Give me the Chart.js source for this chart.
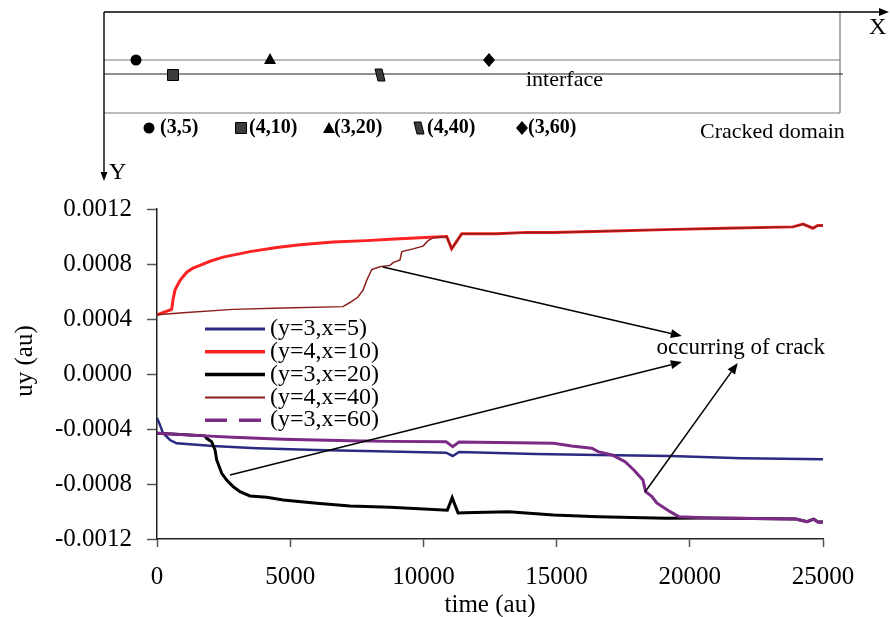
<!DOCTYPE html>
<html>
<head>
<meta charset="utf-8">
<script src="https://cdn.jsdelivr.net/npm/chart.js@4.4.1/dist/chart.umd.min.js"></script>
<style>
  html, body { margin: 0; padding: 0; background: #fff; }
  canvas { display: block; }
</style>
</head>
<body>
<canvas id="chart" width="890" height="617"></canvas>
<script>
// series: time (au) and uy (au)
const seriesNames = ['(y=3,x=5)', '(y=4,x=10)', '(y=3,x=20)', '(y=4,x=40)', '(y=3,x=60)'];

const timeY3X5 = [0, 110, 225, 490, 740, 1615, 2100, 3740, 6000, 9160, 10850, 11100, 11340, 14210, 16560, 19260, 21960, 25000];
const uyY3X5 = [-0.00032, -0.00037, -0.00043, -0.00048, -0.000504, -0.000516, -0.000524, -0.00054, -0.000553, -0.000565, -0.000572, -0.000596, -0.000567, -0.000582, -0.000589, -0.000596, -0.000613, -0.00062];

const timeY4X10 = [0, 550, 600, 675, 860, 1115, 1350, 1615, 1990, 2480, 2990, 3490, 4495, 5370, 6610, 7870, 8750, 10250, 10875, 11060, 11440, 12750, 13880, 14870, 17120, 19070, 21320, 23870, 24250, 24620, 24800, 25000];
const uyY4X10 = [0.00043, 0.00047, 0.00054, 0.00061, 0.00068, 0.00074, 0.00077, 0.00079, 0.00082, 0.00085, 0.00087, 0.00089, 0.00092, 0.00094, 0.00096, 0.00097, 0.00098, 0.000995, 0.001, 0.00091, 0.00102, 0.00102, 0.00103, 0.00103, 0.00104, 0.00105, 0.00106, 0.00107, 0.00109, 0.00106, 0.00108, 0.00108];

const timeY3X20 = [0, 900, 1800, 1865, 2050, 2180, 2240, 2430, 2615, 2865, 3115, 3490, 4120, 4740, 6000, 7245, 8750, 10900, 11080, 11300, 11525, 13200, 14890, 16560, 19100, 20780, 23980, 24400, 24650, 24810, 25000];
const uyY3X20 = [-0.00043, -0.00044, -0.00045, -0.000468, -0.000492, -0.000553, -0.000625, -0.000722, -0.000771, -0.00082, -0.000856, -0.000887, -0.000897, -0.000916, -0.00094, -0.00096, -0.000969, -0.00099, -0.0009, -0.00101, -0.001009, -0.001001, -0.001025, -0.001038, -0.001049, -0.001047, -0.001055, -0.001074, -0.001056, -0.001076, -0.001076];

const timeY4X40 = [0, 975, 2850, 4730, 6980, 7245, 7545, 7735, 7870, 8060, 8370, 8750, 8860, 9120, 9190, 9610, 9985, 10175, 10360, 10625, 10875, 11060, 11440, 12750, 13880, 14870, 17120, 19070, 21320, 23870, 24250, 24620, 24800, 25000];
const uyY4X40 = [0.00043, 0.000445, 0.00047, 0.00048, 0.00049, 0.00052, 0.00056, 0.00061, 0.00068, 0.00076, 0.00078, 0.00079, 0.00081, 0.00083, 0.00089, 0.00091, 0.00093, 0.00097, 0.00099, 0.000995, 0.001, 0.00091, 0.00102, 0.00102, 0.00103, 0.00103, 0.00104, 0.00105, 0.00106, 0.00107, 0.00109, 0.00106, 0.00108, 0.00108];

const timeY3X60 = [0, 1800, 2850, 4730, 7245, 8750, 10850, 11100, 11340, 14890, 15560, 16320, 16560, 17080, 17570, 17900, 18240, 18340, 18580, 18760, 19260, 19600, 20780, 23980, 24400, 24650, 24810, 25000];
const uyY3X60 = [-0.00043, -0.00045, -0.00046, -0.000475, -0.000485, -0.00049, -0.000492, -0.000529, -0.000495, -0.000504, -0.000524, -0.00054, -0.000565, -0.000589, -0.000638, -0.000698, -0.000771, -0.000856, -0.000892, -0.000938, -0.001001, -0.001038, -0.001047, -0.001055, -0.001074, -0.001056, -0.001076, -0.001076];

const timeTicks = [0, 5000, 10000, 15000, 20000, 25000];
const uyTicks = [-0.0012, -0.0008, -0.0004, 0, 0.0004, 0.0008, 0.0012];

// "occurring of crack" arrows, in data units: [t from, uy from, t to, uy to]
const crackArrows = [
    [8480, 0.000778, 19700, 0.000276],
    [2740, -0.000735, 19700, 0.000087],
    [18320, -0.000858, 21800, 0.00008]
];
const crackLabelAt = [18750, 0.00019];

const serif = '"Liberation Serif", "Times New Roman", serif';
const colors = ['#2b2a80', '#fa2222', '#000000', '#8b1c1c', '#7b2a86'];
const widths = [2.5, 3, 3, 1.5, 3];
const legendDash = [[], [], [], [], [22, 12]];

function toPoints(ts, us) {
    return ts.map((t, i) => ({x: t, y: us[i]}));
}

const seriesData = [
    toPoints(timeY3X5, uyY3X5),
    toPoints(timeY4X10, uyY4X10),
    toPoints(timeY3X20, uyY3X20),
    toPoints(timeY4X40, uyY4X40),
    toPoints(timeY3X60, uyY3X60)
];

function arrow(ctx, x1, y1, x2, y2, width, len, half) {
    const a = Math.atan2(y2 - y1, x2 - x1);
    const bx = x2 - len * Math.cos(a), by = y2 - len * Math.sin(a);
    ctx.save();
    ctx.strokeStyle = '#000';
    ctx.fillStyle = '#000';
    ctx.lineWidth = width;
    ctx.beginPath();
    ctx.moveTo(x1, y1);
    ctx.lineTo(bx, by);
    ctx.stroke();
    ctx.beginPath();
    ctx.moveTo(x2, y2);
    ctx.lineTo(bx + half * Math.sin(a), by - half * Math.cos(a));
    ctx.lineTo(bx - half * Math.sin(a), by + half * Math.cos(a));
    ctx.closePath();
    ctx.fill();
    ctx.restore();
}

function seg(ctx, x1, y1, x2, y2) {
    ctx.beginPath();
    ctx.moveTo(x1, y1);
    ctx.lineTo(x2, y2);
    ctx.stroke();
}

function marker(ctx, kind, x, y) {
    ctx.save();
    ctx.fillStyle = '#000';
    ctx.strokeStyle = '#000';
    ctx.lineWidth = 1;
    ctx.beginPath();
    if (kind === 'circle') {
        ctx.arc(x, y, 5.5, 0, Math.PI * 2);
        ctx.fill();
    } else if (kind === 'square') {
        ctx.fillStyle = '#3c3c3c';
        ctx.rect(x - 5.5, y - 5.5, 11, 11);
        ctx.fill();
        ctx.stroke();
    } else if (kind === 'triangle') {
        ctx.moveTo(x, y - 6);
        ctx.lineTo(x + 6, y + 5);
        ctx.lineTo(x - 6, y + 5);
        ctx.closePath();
        ctx.fill();
    } else if (kind === 'slant') {
        ctx.fillStyle = '#3c3c3c';
        ctx.moveTo(x - 5, y - 6);
        ctx.lineTo(x + 2, y - 6);
        ctx.lineTo(x + 5, y + 6);
        ctx.lineTo(x - 2, y + 6);
        ctx.closePath();
        ctx.fill();
        ctx.stroke();
    } else {
        ctx.moveTo(x, y - 7);
        ctx.lineTo(x + 6, y);
        ctx.lineTo(x, y + 7);
        ctx.lineTo(x - 6, y);
        ctx.closePath();
        ctx.fill();
    }
    ctx.restore();
}

// sketch of the cracked domain above the plot
function drawSchematic(ctx) {
    ctx.save();
    ctx.lineWidth = 1.2;
    ctx.strokeStyle = '#7a7a7a';
    seg(ctx, 840, 12, 840, 113);
    seg(ctx, 104, 113, 840, 113);
    seg(ctx, 104, 60, 840, 60);
    ctx.strokeStyle = '#222';
    seg(ctx, 104, 74, 843, 74);
    arrow(ctx, 104, 12, 889, 12, 1.4, 10, 4);
    arrow(ctx, 104, 12, 104, 181, 1.4, 9, 3.5);

    marker(ctx, 'circle', 136, 60);
    marker(ctx, 'square', 173, 75);
    marker(ctx, 'triangle', 270, 59);
    marker(ctx, 'slant', 380, 75);
    marker(ctx, 'diamond', 489, 60);

    ctx.fillStyle = '#000';
    ctx.textBaseline = 'middle';
    ctx.textAlign = 'left';
    ctx.font = '22px ' + serif;
    ctx.fillText('interface', 526, 80);
    ctx.fillText('Cracked domain', 700, 132);
    ctx.font = '24px ' + serif;
    ctx.fillText('X', 869, 28);
    ctx.fillText('Y', 109, 173);

    const keys = [['circle', 149, '(3,5)', 160], ['square', 241, '(4,10)', 249], ['triangle', 329, '(3,20)', 334],
        ['slant', 419, '(4,40)', 427], ['diamond', 522, '(3,60)', 528]];
    ctx.font = 'bold 20px ' + serif;
    keys.forEach(k => {
        marker(ctx, k[0], k[1], 128);
        ctx.fillText(k[2], k[3], 128);
    });
    ctx.restore();
}

const overlayPlugin = {
    id: 'overlay',
    afterDraw(chart) {
        const ctx = chart.ctx;
        const xs = chart.scales.x, ys = chart.scales.y;
        drawSchematic(ctx);

        // y axis title
        ctx.save();
        ctx.fillStyle = '#000';
        ctx.font = '25px ' + serif;
        ctx.textAlign = 'center';
        ctx.textBaseline = 'middle';
        ctx.translate(25, 361);
        ctx.rotate(-Math.PI / 2);
        ctx.fillText('uy (au)', 0, 0);
        ctx.restore();

        // legend inside the plot
        ctx.save();
        ctx.font = '24px ' + serif;
        ctx.textBaseline = 'middle';
        ctx.textAlign = 'left';
        ctx.fillStyle = '#000';
        seriesNames.forEach((name, i) => {
            const y = 329 + i * 22.8;
            ctx.strokeStyle = colors[i];
            ctx.lineWidth = widths[i] + 0.5;
            ctx.setLineDash(legendDash[i]);
            seg(ctx, 205, y, 265, y);
            ctx.setLineDash([]);
            ctx.fillText(name, 270, y);
        });
        ctx.restore();

        // crack arrows and label
        crackArrows.forEach(a => {
            arrow(ctx, xs.getPixelForValue(a[0]), ys.getPixelForValue(a[1]),
                xs.getPixelForValue(a[2]), ys.getPixelForValue(a[3]), 1.5, 11, 4.5);
        });
        ctx.save();
        ctx.font = '23px ' + serif;
        ctx.fillStyle = '#000';
        ctx.textBaseline = 'middle';
        ctx.fillText('occurring of crack', xs.getPixelForValue(crackLabelAt[0]), ys.getPixelForValue(crackLabelAt[1]));
        ctx.restore();
    }
};

const datasets = seriesData.map((pts, i) => ({
    label: seriesNames[i],
    data: pts,
    borderColor: colors[i],
    borderWidth: widths[i],
    pointRadius: 0,
    tension: 0,
    fill: false,
    order: 5 - i
}));

new Chart(document.getElementById('chart'), {
    type: 'line',
    data: {datasets: datasets},
    plugins: [overlayPlugin],
    options: {
        responsive: false,
        animation: false,
        layout: {padding: {left: 0, top: 209, right: 67, bottom: 0}},
        plugins: {
            legend: {display: false},
            tooltip: {enabled: false}
        },
        scales: {
            x: {
                type: 'linear',
                min: 0,
                max: 25000,
                afterFit: s => { s.height = 78; },
                afterBuildTicks: s => { s.ticks = timeTicks.map(v => ({value: v})); },
                grid: {drawOnChartArea: false, tickLength: 8, tickColor: '#555', tickWidth: 1.5},
                border: {color: '#222', width: 1.5},
                ticks: {
                    color: '#000',
                    padding: 15,
                    maxRotation: 0,
                    font: {family: serif, size: 25},
                    callback: v => String(v)
                },
                title: {
                    display: true,
                    text: 'time (au)',
                    color: '#000',
                    padding: {top: 0, bottom: -3},
                    font: {family: serif, size: 25}
                }
            },
            y: {
                min: -0.0012,
                max: 0.0012,
                afterFit: s => { s.width = 157; },
                afterBuildTicks: s => { s.ticks = uyTicks.map(v => ({value: v})); },
                grid: {drawOnChartArea: false, tickLength: 10, tickColor: '#555', tickWidth: 1.5},
                border: {color: '#222', width: 1.5},
                ticks: {
                    color: '#000',
                    padding: 15,
                    font: {family: serif, size: 25},
                    callback: v => (Math.abs(v) < 1e-10 ? 0 : v).toFixed(4)
                }
            }
        }
    }
});
</script>
</body>
</html>
